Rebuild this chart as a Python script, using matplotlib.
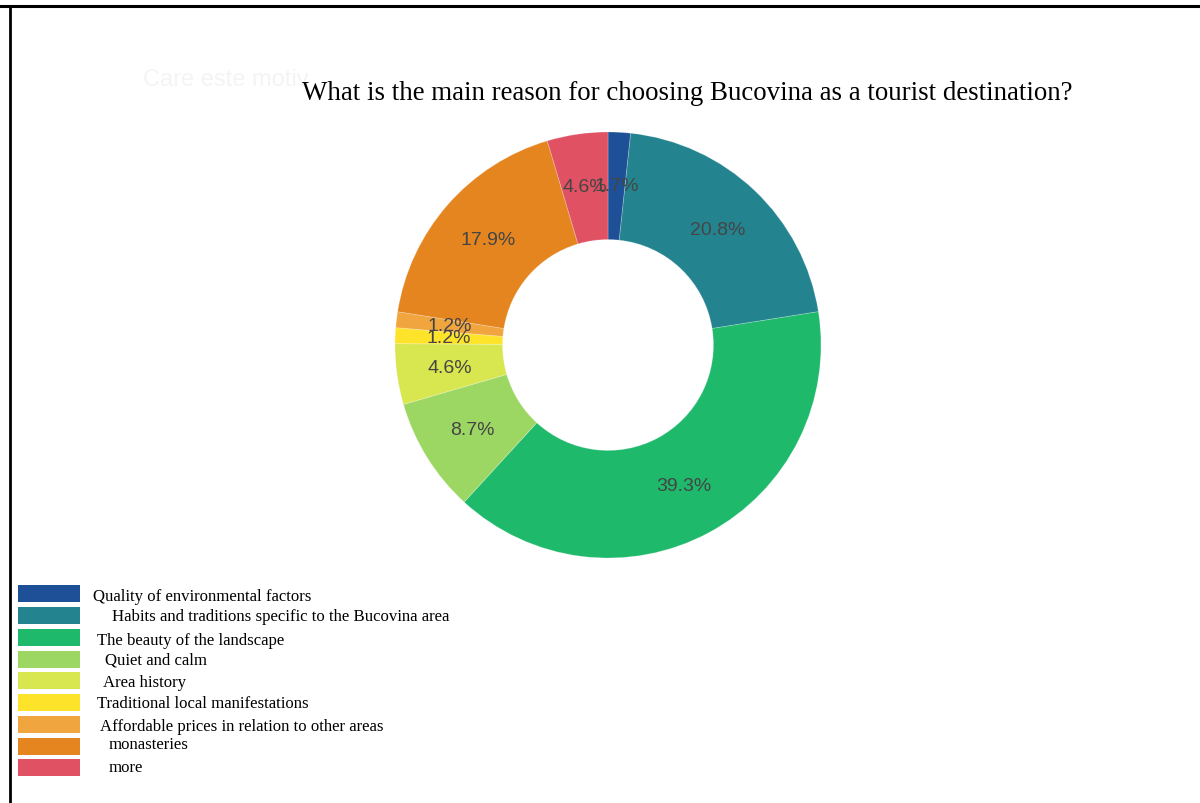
import matplotlib.pyplot as plt
from matplotlib.patches import Rectangle
from matplotlib.lines import Line2D

# survey answers, in drawing order (clockwise from 12 o'clock)
reasons = [
    'Quality of environmental factors',
    'Habits and traditions specific to the Bucovina area',
    'The beauty of the landscape',
    'Quiet and calm',
    'Area history',
    'Traditional local manifestations',
    'Affordable prices in relation to other areas',
    'monasteries',
    'more',
]
shares = [1.7, 20.8, 39.3, 8.7, 4.6, 1.2, 1.2, 17.9, 4.6]
colors = ['#1d5096', '#23838f', '#1eb96b', '#9dd763', '#d8e74f',
          '#fde42a', '#f0a53f', '#e5851f', '#e05263']
title = 'What is the main reason for choosing Bucovina as a tourist destination?'

W, H = 1200, 804
fig = plt.figure(figsize=(W / 100, H / 100), dpi=100, facecolor='white')

def px(x, y):
    # pixel position (top-left origin) -> figure fraction
    return x / W, 1 - y / H

# donut
cx, cy, r = 608, 346, 213
ax = fig.add_axes([(cx - r) / W, (H - cy - r) / H, 2 * r / W, 2 * r / H])
wedges, _, autotexts = ax.pie(
    shares, colors=colors, startangle=90, counterclock=False,
    radius=1.0, autopct='%1.1f%%', pctdistance=0.75,
    wedgeprops=dict(width=0.505, linewidth=0.6, edgecolor=(1, 1, 1, 0.25)),
    textprops=dict(fontsize=14, color='#454545', family='Liberation Sans'))
ax.set_xlim(-1, 1)
ax.set_ylim(-1, 1)
ax.set_aspect('equal')

# title and faint leftover heading behind it
fig.text(*px(143, 80), 'Care este motiv', fontsize=17, color='#f4f4f4',
         family='Liberation Sans', va='center', ha='left')
fig.text(*px(687, 93), title, fontsize=19.4, family='Liberation Serif',
         ha='center', va='center', color='black')

# hand-placed legend
row_y = [594, 616, 638, 660, 681, 703, 725, 747, 768]
text_x = [93, 112, 97, 105, 103, 97, 100, 109, 109]
text_dy = [3, 1, 3, 1, 2, 1, 2, -2, 0]
for i, (lab, col) in enumerate(zip(reasons, colors)):
    x0, y0 = px(18, row_y[i] + 8.5)
    fig.patches.append(Rectangle((x0, y0), 62 / W, 17 / H, transform=fig.transFigure,
                                 facecolor=col, edgecolor='none'))
    fig.text(*px(text_x[i], row_y[i] + text_dy[i]), lab, fontsize=12.1,
             family='Liberation Serif', va='center', ha='left', color='black')

# frame lines along the top and left edge
fig.add_artist(Line2D([0, 1], [1 - 7 / H] * 2, transform=fig.transFigure,
                      color='black', linewidth=2.2))
fig.add_artist(Line2D([9.5 / W] * 2, [0, 1 - 7 / H], transform=fig.transFigure,
                      color='black', linewidth=2.0))

fig.savefig('out.png', dpi=100, facecolor='white')
